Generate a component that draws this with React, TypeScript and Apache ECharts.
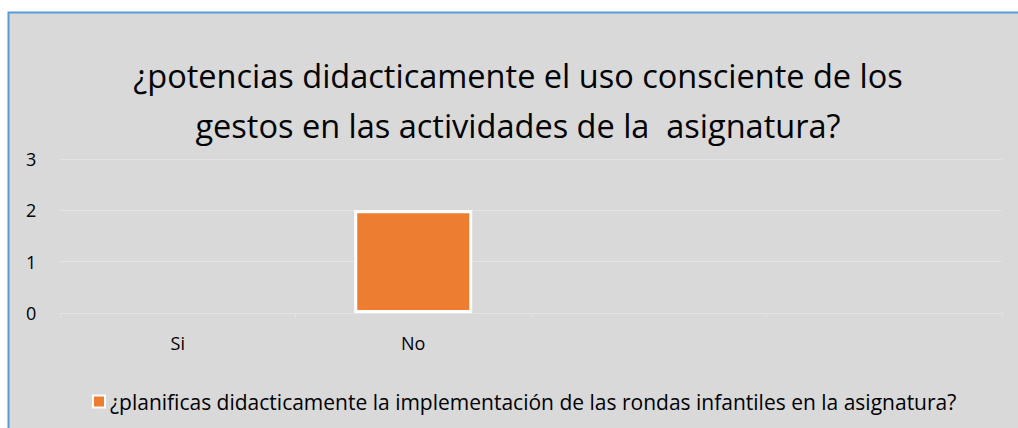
import React, { useEffect, useRef } from "react";
import * as echarts from "echarts";

const titleText = "¿potencias didacticamente el uso consciente de los\ngestos en las actividades de la  asignatura?";
const categories = ["Si", "No", "", ""];
const seriesName = "¿planificas didacticamente la implementación de las rondas infantiles en la asignatura?";
const seriesValues: (number | null)[] = [null, 2, null, null];
const yTicks = { min: 0, max: 3, interval: 1 };

export default function App() {
  const ref = useRef<HTMLDivElement>(null);
  useEffect(() => {
    document.body.style.margin = "0";
    const chart = echarts.init(ref.current!, undefined, { renderer: "svg" });
    const font = "'Open Sans', sans-serif";
    chart.setOption({
      animation: false,
      backgroundColor: "#ffffff",
      graphic: [
        {
          type: "rect",
          z: -10,
          silent: true,
          shape: { x: 8.5, y: 12.5, width: 1040, height: 440 },
          style: { fill: "#D9D9D9", stroke: "#5B9BD5", lineWidth: 2 },
        },
      ],
      title: {
        text: titleText,
        left: 518,
        textAlign: "center",
        top: 50,
        padding: 0,
        textStyle: {
          fontFamily: font,
          fontSize: 32.5,
          fontWeight: "normal",
          color: "#000000",
          lineHeight: 50,
        },
      },
      legend: {
        left: 87,
        top: 386,
        itemWidth: 12,
        itemHeight: 12,
        itemGap: 6,
        icon: "rect",
        itemStyle: { color: "#ED7D31", borderColor: "#FFFFFF", borderWidth: 2 },
        textStyle: { fontFamily: font, fontSize: 21, color: "#000000" },
        data: [seriesName],
      },
      grid: { left: 60, right: 16, top: 159, bottom: 115, containLabel: false },
      xAxis: {
        type: "category",
        data: categories,
        axisLine: { show: true, lineStyle: { color: "#E4E4E4", width: 1 } },
        axisTick: { show: true, alignWithLabel: false, length: 4, lineStyle: { color: "#E4E4E4" } },
        axisLabel: { fontFamily: font, fontSize: 18, color: "#000000", margin: 21 },
      },
      yAxis: {
        type: "value",
        min: yTicks.min,
        max: yTicks.max,
        interval: yTicks.interval,
        axisLine: { show: false },
        axisTick: { show: false },
        splitLine: { show: true, lineStyle: { color: "#E4E4E4", width: 1 } },
        axisLabel: { fontFamily: font, fontSize: 18, color: "#000000", align: "left", margin: 34 },
      },
      series: [
        {
          name: seriesName,
          type: "bar",
          data: seriesValues,
          barWidth: 118,
          itemStyle: { color: "#ED7D31", borderColor: "#FFFFFF", borderWidth: 3 },
        },
      ],
    });
    return () => chart.dispose();
  }, []);
  return (
    <div
      ref={ref}
      style={{ position: "absolute", left: 0, top: 0, width: 1018, height: 428 }}
    />
  );
}
